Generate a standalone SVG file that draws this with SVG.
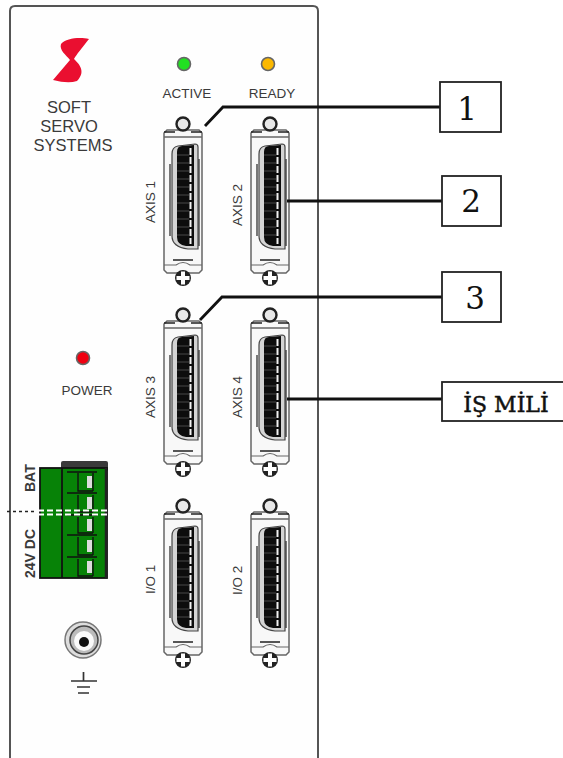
<svg xmlns="http://www.w3.org/2000/svg" width="563" height="758" viewBox="0 0 563 758">
<style>
.t{font-family:"Liberation Sans",Arial,sans-serif;fill:#3a3a3a}
.s{font-size:13.500px}
.a{font-size:13.500px;text-anchor:middle}
.l{font-size:16.500px;text-anchor:middle}
.b{font-family:"DejaVu Serif","Liberation Serif",serif;fill:#111;text-anchor:middle}
.box{fill:#fff;stroke:#222;stroke-width:1.800}
.con{fill:none;stroke:#111;stroke-width:2.800}
.led{stroke:#666;stroke-width:1.600}
</style>
<defs>
<filter id="soft" x="-5%" y="-5%" width="110%" height="110%"><feGaussianBlur stdDeviation="0.4"/></filter>
<g id="conn" filter="url(#soft)">
<path d="M-16 6h32l3 3v137l-3 3h-32l-3-3V9z" fill="#f8f8f8" stroke="#666" stroke-width="1.500"/>
<path d="M-19 13H19" stroke="#666" stroke-width="1.300"/>
<path d="M-19 8H-8M8 8H19" stroke="#222" stroke-width="1.600"/>
<circle r="6.500" fill="#e8e8e8" stroke="#222" stroke-width="2.400"/>
<path d="M-19 141H-7Q0 136 7 141H19" fill="none" stroke="#666" stroke-width="1.200"/>
<path d="M-10 136H10" stroke="#222" stroke-width="1.500"/>
<circle cy="154" r="8" fill="#222"/>
<path d="M-2 147.500h4v4.500h4.500v4h-4.500v4.500h-4v-4.500h-4.500v-4h4.500z" fill="#fff"/>
<path d="M-11 30q0-7 6-8L12 20q3 0 3 3V125H5Q-11 123-11 112z" fill="#d4d4d4" stroke="#444" stroke-width="1.200"/>
<path d="M-6 28q0-6 5-6L11 21V122H3Q-6 121-6 113z" fill="#0c0c0c"/>
<path d="M7.500 24V120" stroke="#f2f2f2" stroke-width="2" stroke-dasharray="7 2"/>
<path d="M-6 31H6M-6 39H6M-6 47H6M-6 55H6M-6 63H6M-6 71H6M-6 79H6M-6 87H6M-6 95H6M-6 103H6M-6 111H6" stroke="#555" stroke-width=".8"/>
<path d="M-13 40V112M16 35V122" stroke="#333" stroke-width="1.300"/>
</g>
</defs>
<rect width="563" height="758" fill="#fff"/>
<g id="panel"><path d="M10 758V11q0-5 5-5H313q5 0 5 5V758" fill="#fefefe" stroke="#555" stroke-width="2"/></g>
<g id="logo">
<path d="M89 39C81 49 77 54 74 59C78 63 87 71 77 81Q68 84 53 80L70 60C66 55 59 50 61 44C66 38 80 37 89 39Z" fill="#ea0f30"/>
<text class="t l" x="69" y="113">SOFT</text>
<text class="t l" x="69" y="132">SERVO</text>
<text class="t l" x="73" y="151">SYSTEMS</text>
</g>
<g id="led-active"><circle class="led" cx="184" cy="64" r="6.500" fill="#22e022"/><text class="t a" x="187" y="98">ACTIVE</text></g>
<g id="led-ready"><circle class="led" cx="268" cy="64" r="6.500" fill="#fbb800"/><text class="t a" x="272" y="98">READY</text></g>
<g id="led-power"><circle class="led" cx="83" cy="358" r="6.500" fill="#f00010"/><text class="t a" x="87" y="395">POWER</text></g>
<g id="axis1"><use href="#conn" x="183" y="124"/><text class="t s" transform="translate(155 223) rotate(-90)">AXIS 1</text></g>
<g id="axis2"><use href="#conn" x="270" y="124"/><text class="t s" transform="translate(242 226) rotate(-90)">AXIS 2</text></g>
<g id="axis3"><use href="#conn" x="183" y="315"/><text class="t s" transform="translate(155 418) rotate(-90)">AXIS 3</text></g>
<g id="axis4"><use href="#conn" x="270" y="315"/><text class="t s" transform="translate(242 418) rotate(-90)">AXIS 4</text></g>
<g id="io1"><use href="#conn" x="183" y="506"/><text class="t s" transform="translate(155 594) rotate(-90)">I/O 1</text></g>
<g id="io2"><use href="#conn" x="270" y="506"/><text class="t s" transform="translate(242 595) rotate(-90)">I/O 2</text></g>
<g id="terminal">
<rect x="61" y="461" width="47" height="10" rx="2" fill="#3a3a3a"/>
<rect x="40" y="468" width="67" height="110" fill="#078207" stroke="#111" stroke-width="1.800"/>
<path d="M62 468V578" stroke="#111" stroke-width="1.800"/>
<path d="M106 468V578" stroke="#222" stroke-width="2.500"/>
<g stroke="#111" stroke-width="1.400" fill="none">
<path d="M67 472H97M67 493H97M67 515H97M67 535H97M67 557H97"/>
<path d="M78 473V491H93M78 495V512H93M78 517V533H93M78 537V555H93M78 559V576H93"/>
<path d="M93 473V491M93 495V512M93 517V533M93 537V555M93 559V576"/>
</g>
<path d="M87 476h5v12h-5zM87 497h5v12h-5zM87 519h5v12h-5zM87 540h5v12h-5zM87 561h5v12h-5z" fill="#ddd"/>
<path d="M7 511.500H35" stroke="#222" stroke-width="1.500" stroke-dasharray="3 3"/>
<path d="M38 510.500H108M38 514.500H108" stroke="#fff" stroke-width="2" stroke-dasharray="6 3"/>
<text class="t" font-size="14" font-weight="bold" transform="translate(35 492) rotate(-90)">BAT</text>
<text class="t" font-size="14" font-weight="bold" transform="translate(35 578) rotate(-90)">24V DC</text>
</g>
<g id="ground">
<circle cx="83" cy="640" r="18" fill="#ddd" stroke="#777" stroke-width="1.500"/>
<circle cx="84" cy="640" r="14" fill="#bbb" stroke="#444" stroke-width="1.500"/>
<circle cx="84" cy="641" r="10" fill="#fafafa"/>
<circle cx="84" cy="642" r="5" fill="#111"/>
<path d="M83.500 672V681M71 681H97M77 687H90M78 693H89" stroke="#333" stroke-width="1.700" fill="none"/>
</g>
<g id="connectors">
<path class="con" d="M205 126L223 107H441"/>
<path class="con" d="M287 201H442"/>
<path class="con" d="M200 320L222 297H442"/>
<path class="con" d="M287 399H442"/>
</g>
<g id="label-1"><rect class="box" x="440" y="82" width="61" height="50"/><text class="b" x="467" y="120" font-size="31">1</text></g>
<g id="label-2"><rect class="box" x="442" y="176" width="59" height="50"/><text class="b" x="471" y="212" font-size="31">2</text></g>
<g id="label-3"><rect class="box" x="442" y="272" width="59" height="50"/><text class="b" x="475" y="309" font-size="31">3</text></g>
<g id="label-4"><rect class="box" x="442" y="382" width="125" height="39"/><text class="b" x="506" y="412" font-size="22" stroke="#111" stroke-width=".5">İŞ MİLİ</text></g>
</svg>
